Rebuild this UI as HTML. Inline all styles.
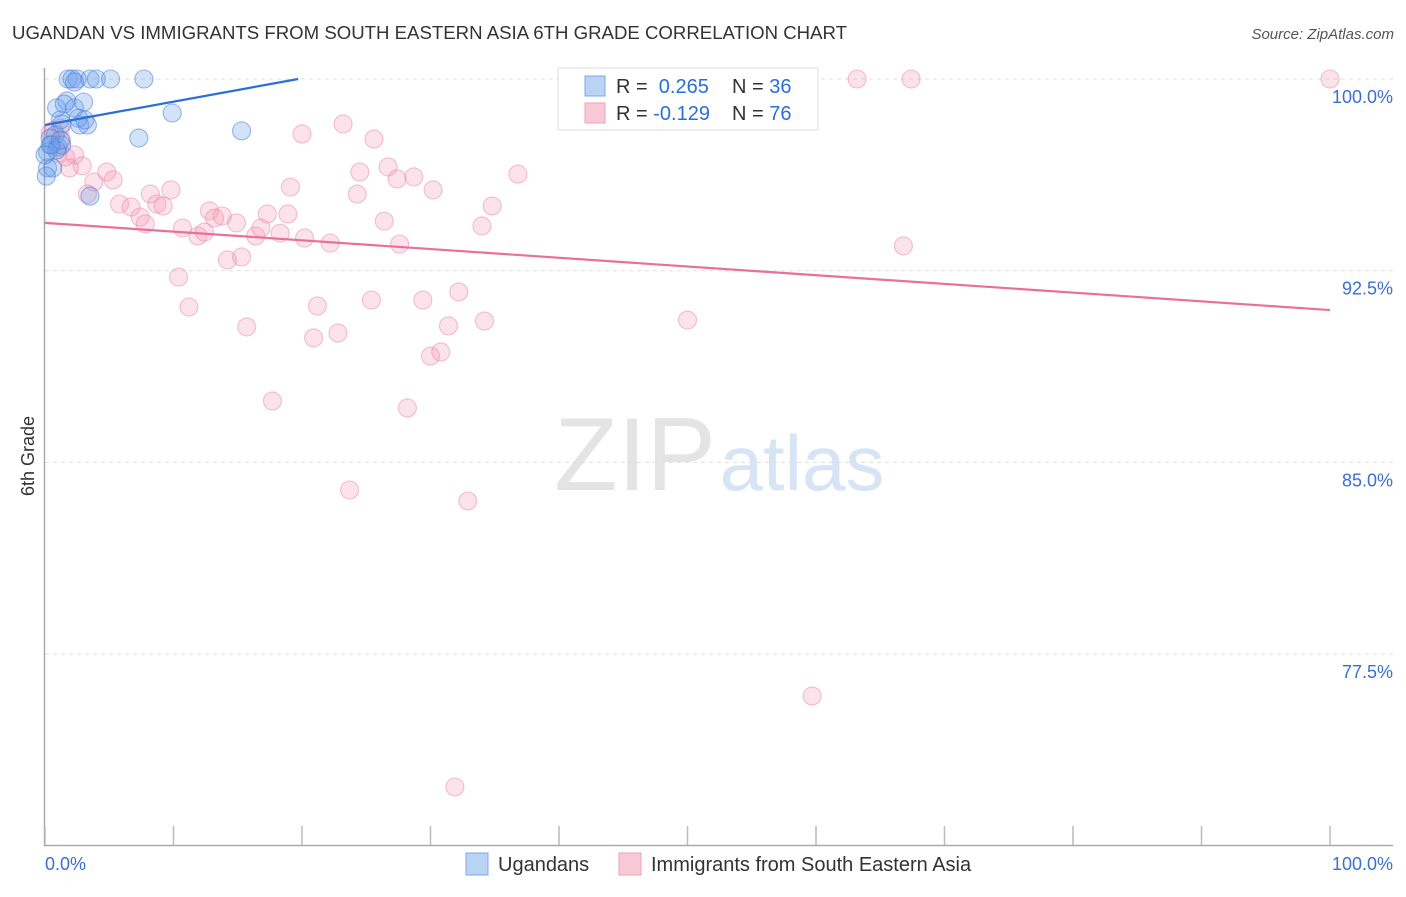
<!DOCTYPE html>
<html><head><meta charset="utf-8">
<style>
body{margin:0;background:#fff;font-family:"Liberation Sans",sans-serif;}
svg text{font-family:"Liberation Sans",sans-serif;}
</style></head>
<body>
<svg id="chart" width="1406" height="892" viewBox="0 0 1406 892">
<text x="12" y="39" font-size="18" fill="#333" textLength="835" lengthAdjust="spacingAndGlyphs">UGANDAN VS IMMIGRANTS FROM SOUTH EASTERN ASIA 6TH GRADE CORRELATION CHART</text>
<text x="1394" y="39" font-size="15" fill="#555" font-style="italic" text-anchor="end">Source: ZipAtlas.com</text>
<text x="0" y="0" font-size="18" fill="#333" transform="translate(34,456) rotate(-90)" text-anchor="middle">6th Grade</text>
<g>
<text x="635" y="490" font-size="104" fill="#e4e4e4" font-family="Liberation Serif,serif" text-anchor="middle">ZIP</text>
<text x="802" y="490" font-size="78" fill="#d6e4f5" text-anchor="middle">atlas</text>
</g>
<g id="grid"></g>
<g id="axes"></g>
<g id="marks"></g>
<g>
<rect x="558" y="68" width="260" height="62" fill="#fff" stroke="#ddd"/>
<rect x="585" y="76" width="20" height="20" fill="#b9d3f5" stroke="#7fa8e6"/>
<rect x="585" y="103" width="20" height="20" fill="#f9c8d6" stroke="#eea0b8"/>
<text x="616" y="93" font-size="20" fill="#333">R = <tspan fill="#2a6fd6">&#160;0.265</tspan></text>
<text x="732" y="93" font-size="20" fill="#333">N = <tspan fill="#2a6fd6">36</tspan></text>
<text x="616" y="120" font-size="20" fill="#333">R = <tspan fill="#2a6fd6">-0.129</tspan></text>
<text x="732" y="120" font-size="20" fill="#333">N = <tspan fill="#2a6fd6">76</tspan></text>
</g>
<g>
<rect x="466" y="853" width="22" height="22" fill="#b9d3f5" stroke="#7fa8e6"/>
<text x="498" y="871" font-size="20" fill="#333">Ugandans</text>
<rect x="619" y="853" width="22" height="22" fill="#f9c8d6" stroke="#eea0b8"/>
<text x="651" y="871" font-size="20" fill="#333">Immigrants from South Eastern Asia</text>
</g>
</svg>
<script>
const yTicks=[100,92.5,85,77.5];
const yTickLabels=["100.0%","92.5%","85.0%","77.5%"];
const xTickLabels=["0.0%","100.0%"];
const blueX=[1.8,2.1,2.5,2.3,3.5,4.0,5.1,7.7,1.7,0.9,1.5,2.3,3.0,1.2,1.3,3.3,2.7,2.6,9.9,7.3,15.3,0.8,0.4,0.5,1.0,0.2,1.3,0.9,0.2,0.6,0.1,3.5,0.4,1.2,0,3.1];
const blueY=[100,100,100,99.88,100,100,100,100,99.14,98.87,99.02,98.87,99.10,98.40,98.24,98.20,98.20,98.47,98.67,97.69,97.97,97.81,97.69,97.42,97.34,97.14,97.42,97.22,96.52,96.52,96.20,95.42,97.42,97.61,97.03,98.40];
const pinkX=[100,63.2,67.4,20.0,23.2,25.6,0.7,1.3,1.0,2.3,1.6,2.9,24.5,26.7,27.4,28.7,30.2,36.8,4.8,5.3,3.8,3.3,8.2,9.8,19.1,24.3,5.8,6.7,8.7,9.2,7.4,7.8,12.8,13.2,13.8,14.9,17.3,18.9,26.4,34.8,34.0,10.7,11.9,12.4,16.4,16.8,18.3,20.2,22.2,27.6,66.8,10.4,14.2,15.3,11.2,21.2,25.4,29.4,32.2,15.7,20.9,22.8,31.4,34.2,50.0,30.0,30.8,17.7,28.2,23.7,32.9,59.7,31.9,1.9,1.2,0.4];
const pinkY=[100,100,100,97.85,98.24,97.65,98.00,97.61,97.10,97.03,96.95,96.60,96.36,96.56,96.09,96.17,95.66,96.28,96.36,96.05,95.97,95.50,95.50,95.66,95.77,95.50,95.11,94.99,95.11,95.03,94.60,94.33,94.84,94.56,94.64,94.37,94.72,94.72,94.44,95.03,94.25,94.17,93.86,94.01,93.86,94.17,93.97,93.78,93.58,93.54,93.47,92.25,92.92,93.04,91.08,91.12,91.35,91.35,91.67,90.30,89.87,90.06,90.34,90.53,90.57,89.16,89.32,87.40,87.13,83.92,83.49,75.86,72.30,96.52,98.08,97.89];
const blueTrend=[98.2,100];
const blueTrendX=[0,19.7];
const pinkTrend=[94.37,90.96];
const pinkTrendX=[0,100];

const NS="http://www.w3.org/2000/svg";
const sx=v=>45+v*12.85;
const sy=v=>79+(100-v)*191.7/7.5;
function mk(tag,attrs,parent){const e=document.createElementNS(NS,tag);for(const k in attrs)e.setAttribute(k,attrs[k]);parent.appendChild(e);return e;}
const grid=document.getElementById('grid'),axes=document.getElementById('axes'),marks=document.getElementById('marks');
yTicks.forEach((t,i)=>{
  const l=mk('line',{x1:45,x2:1393,y1:sy(t),y2:sy(t),stroke:'#ddd','stroke-dasharray':'4,4'},grid);
  
  
  const tx=mk('text',{x:1393,y:sy(t)+24,'font-size':18,fill:'#3a6fd0','text-anchor':'end'},axes);
  tx.textContent=yTickLabels[i];
  
  
});
const ax=mk('path',{d:'M44.5 68 V845.5 H1393',fill:'none',stroke:'#aaa','stroke-width':1.5},axes);


for(let i=0;i<=10;i++){
  const t=mk('line',{x1:sx(i*10),x2:sx(i*10),y1:826,y2:845,stroke:'#bbb','stroke-width':1.5},axes);
  
  
}
const xl0=mk('text',{x:45,y:870,'font-size':18,fill:'#3a6fd0'},axes);xl0.textContent=xTickLabels[0];


const xl1=mk('text',{x:1393,y:870,'font-size':18,fill:'#3a6fd0','text-anchor':'end'},axes);xl1.textContent=xTickLabels[1];



pinkX.forEach((x,i)=>{
  const c=mk('circle',{cx:sx(x),cy:sy(pinkY[i]),r:9,fill:'rgba(244,150,180,0.28)',stroke:'rgba(232,120,160,0.45)','stroke-width':1.1},marks);
  
  
});
blueX.forEach((x,i)=>{
  const c=mk('circle',{cx:sx(x),cy:sy(blueY[i]),r:9,fill:'rgba(110,160,235,0.3)',stroke:'rgba(70,130,220,0.55)','stroke-width':1.1},marks);
  
  
});
const bt=mk('line',{x1:sx(blueTrendX[0]),y1:sy(blueTrend[0]),x2:sx(blueTrendX[1]),y2:sy(blueTrend[1]),stroke:'#2a6fd6','stroke-width':2.2},marks);


const pt=mk('line',{x1:sx(pinkTrendX[0]),y1:sy(pinkTrend[0]),x2:sx(pinkTrendX[1]),y2:sy(pinkTrend[1]),stroke:'#e8709a','stroke-width':2.2},marks);


</script>
</body></html>
